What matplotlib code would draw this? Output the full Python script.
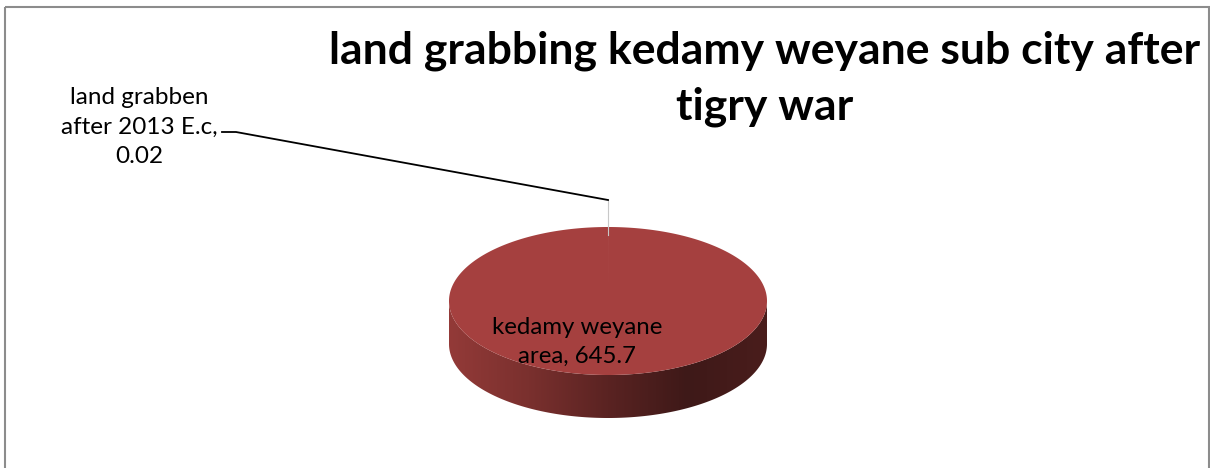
import numpy as np
import matplotlib.pyplot as plt
from matplotlib.patches import Polygon, Rectangle
from matplotlib.colors import LinearSegmentedColormap

# slice data
labels = ["land grabben\nafter 2013 E.c", "kedamy weyane\narea"]
values = [0.02, 645.7]
slice_colors = ["#4F81BD", "#A5403F"]

title = "land grabbing kedamy weyane sub city after\ntigry war"

fig = plt.figure(figsize=(12.1, 4.68), dpi=100)
ax = fig.add_axes([0, 0, 1, 1])
ax.set_xlim(0, 1210)
ax.set_ylim(468, 0)
ax.axis("off")

# chart area border
ax.add_patch(Rectangle((5, 7), 1204, 470, fill=False, edgecolor="#8c8c8c", lw=1.5))

# pie geometry (pixels): centre, radii and thickness of the tilted disc
cx, cy, rx, ry, depth = 608, 301, 159, 74, 43


def rim(t, dy=0.0):
    return cx + rx * np.cos(t), cy - ry * np.sin(t) + dy


# side wall with a left-to-right shading
t = np.linspace(np.pi, 2 * np.pi, 200)
xt, yt = rim(t)
xb, yb = rim(t[::-1], depth)
side = Polygon(np.column_stack([np.r_[xt, xb], np.r_[yt, yb]]), closed=True,
               facecolor="none", edgecolor="none")
ax.add_patch(side)
shade = LinearSegmentedColormap.from_list(
    "side", ["#933a38", "#7a302e", "#5a2322", "#3e1918", "#4a1d1c"])
grad = np.linspace(0, 1, 256)[None, :]
img = ax.imshow(grad, cmap=shade, aspect="auto",
                extent=[cx - rx, cx + rx, cy + ry + depth, cy - 2],
                interpolation="bilinear", zorder=1)
img.set_clip_path(side)

# top face slices, Excel-style: start at 12 o'clock and go clockwise
total = sum(values)
start = np.pi / 2
mids = []
for v, c in zip(values, slice_colors):
    span = 2 * np.pi * v / total
    tt = np.linspace(start, start - span, max(3, int(400 * v / total)))
    px, py = rim(tt)
    ax.add_patch(Polygon(np.column_stack([np.r_[cx, px], np.r_[cy, py]]),
                         closed=True, facecolor=c, edgecolor="none", zorder=2))
    mids.append(start - span / 2)
    start -= span

font = "Lato"

# leader line for the tiny slice
mx, my = rim(mids[0])
ax.plot([mx, mx], [my - 27, my + 8], color="#c8c8c8", lw=0.8, zorder=3)
ax.plot([222, 236, mx], [132, 132, my - 27], color="black", lw=1.3, zorder=3)

ax.text(139, 127, f"{labels[0]},\n{values[0]:g}", ha="center", va="center",
        fontsize=17.5, family=font, linespacing=1.5, zorder=4)
ax.text(577, 342, f"{labels[1]}, {values[1]:g}", ha="center", va="center",
        fontsize=17.3, family=font, linespacing=1.48, zorder=4)

ax.text(765, 79, title, ha="center", va="center", fontsize=32,
        fontweight="bold", family=font, linespacing=1.47, zorder=4)

fig.savefig("out.png", dpi=100)
